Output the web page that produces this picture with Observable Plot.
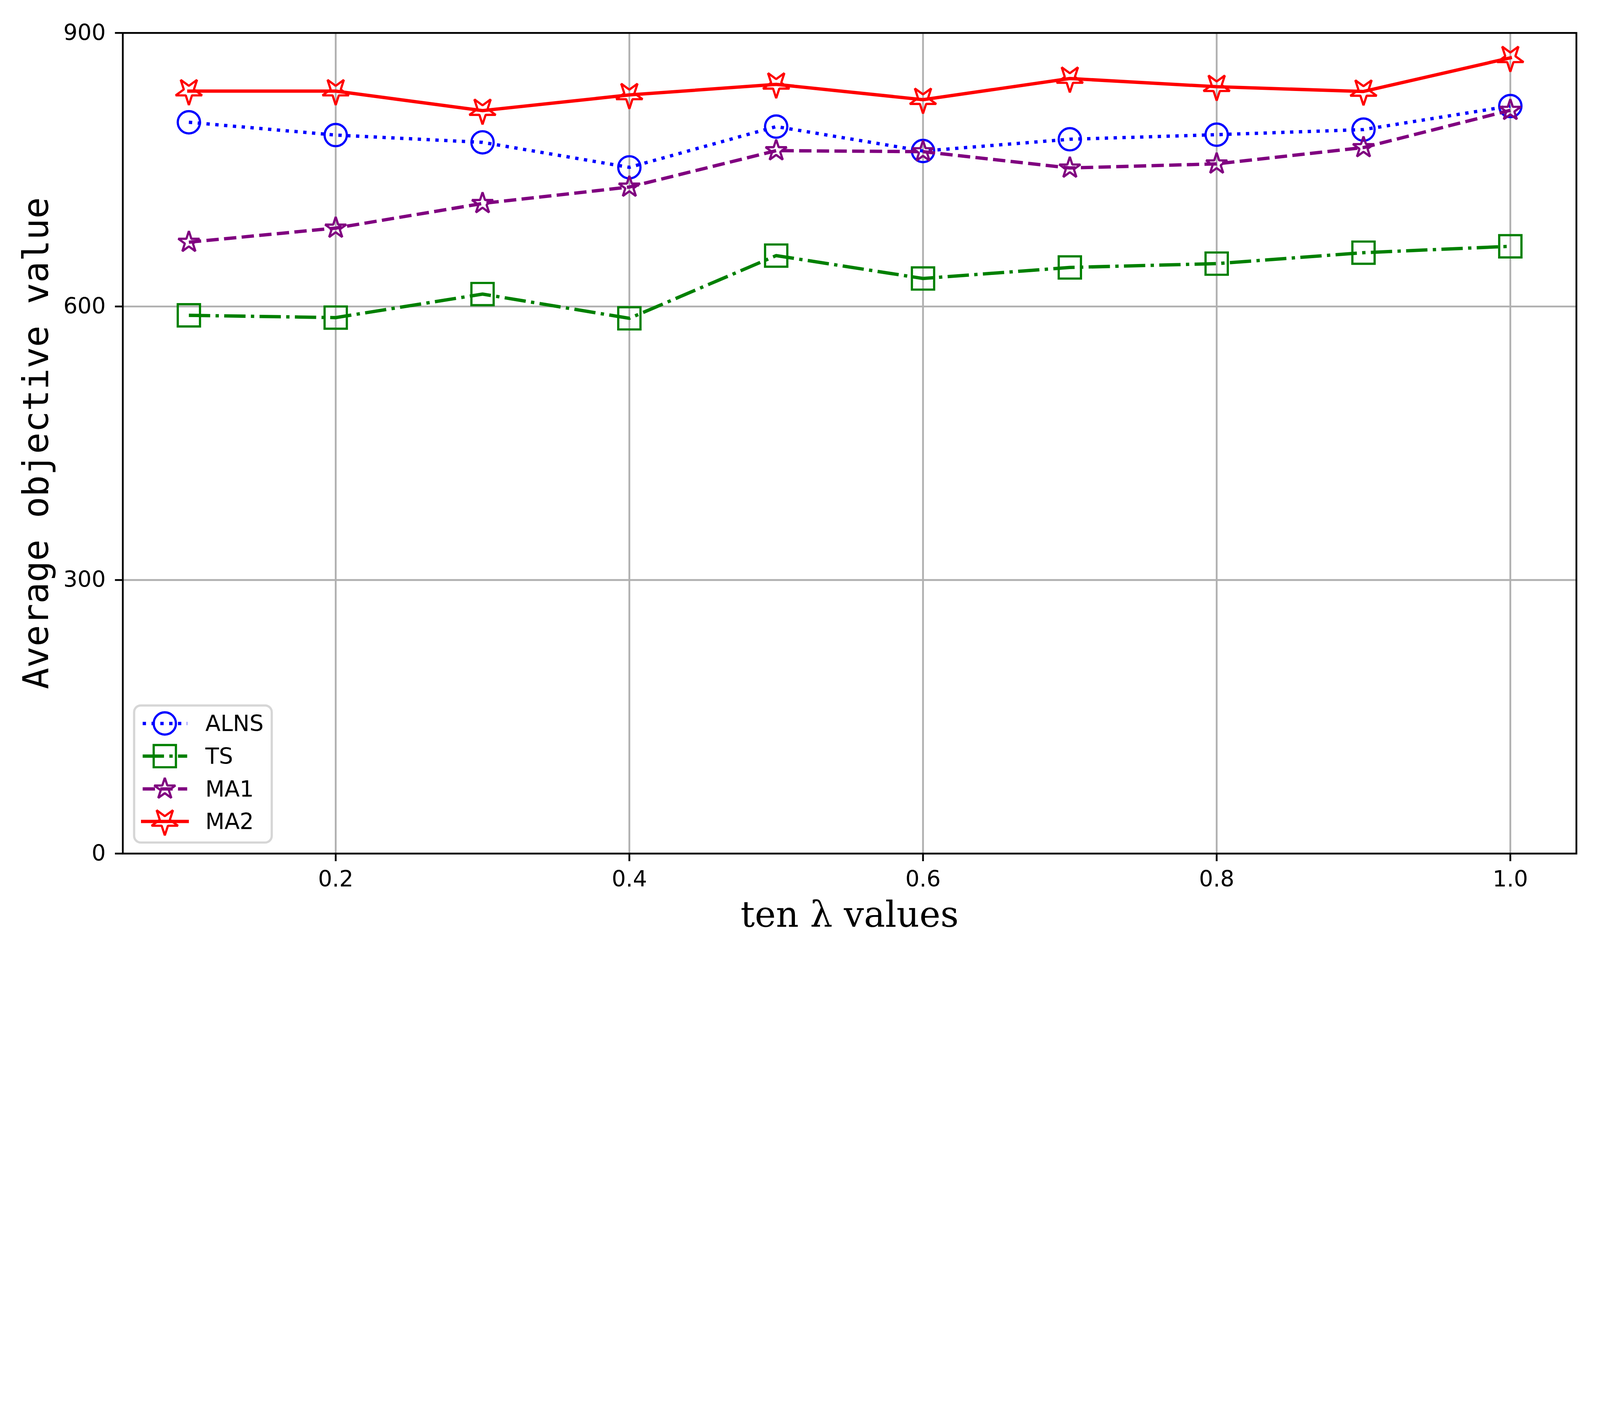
<!DOCTYPE html>
<html>
<head>
<meta charset="utf-8">
<script src="https://cdn.jsdelivr.net/npm/d3@7"></script>
<script src="https://cdn.jsdelivr.net/npm/@observablehq/plot@0.6"></script>
<style>
html, body { margin: 0; padding: 0; background: #ffffff; }
#chart svg { display: block; }
</style>
</head>
<body>
<div id="chart"></div>
<script>
// ---- data ----
const lambdas = [0.1, 0.2, 0.3, 0.4, 0.5, 0.6, 0.7, 0.8, 0.9, 1.0];
const alns = [802, 788, 780, 752.6, 797.3, 770.5, 783.4, 788.4, 794, 819.8];
const ts   = [590.3, 587.8, 613.6, 587, 655.8, 630.7, 642.8, 647, 659, 666];
const ma1  = [670.5, 686, 713, 731, 770.9, 769.8, 751.9, 756.4, 774.3, 815.2];
const ma2  = [836.2, 836.2, 814.8, 832, 843.6, 826.8, 850, 841, 835.8, 872.7];
const seriesNames = ["ALNS", "TS", "MA1", "MA2"];
const xTicks = [0.2, 0.4, 0.6, 0.8, 1.0];
const yTicks = [0, 300, 600, 900];
const xLabel = "ten λ values";
const yLabel = "Average objective value";

// ---- symbols ----
const symCircle = {draw(ctx, size) { const R = Math.sqrt(size / Math.PI); ctx.moveTo(R, 0); ctx.arc(0, 0, R, 0, 2 * Math.PI); ctx.closePath(); }};
const symSquare = {draw(ctx, size) { const R = Math.sqrt(size / Math.PI); ctx.moveTo(-R, -R); ctx.lineTo(R, -R); ctx.lineTo(R, R); ctx.lineTo(-R, R); ctx.closePath(); }};
function starDraw(flip) {
  return {draw(ctx, size) {
    const R = Math.sqrt(size / Math.PI), r = R * 0.381966;
    for (let k = 0; k < 10; k++) {
      const rad = k % 2 ? r : R;
      const a = (-90 + k * 36 + (flip ? 180 : 0)) * Math.PI / 180;
      const x = rad * Math.cos(a), y = rad * Math.sin(a);
      if (k) ctx.lineTo(x, y); else ctx.moveTo(x, y);
    }
    ctx.closePath();
  }};
}
const symStar = starDraw(false);
const symStarDown = starDraw(true);

// ---- styles ----
const LW = 12.5, MEW = 8.3, SPINE = 6.7;
const styles = {
  ALNS: {color: "#0000ff", dash: "12.5,20.6", symbol: symCircle, r: 41.7, join: "round"},
  TS:   {color: "#008000", dash: "80,20,12.5,20", symbol: symSquare, r: 41.7, join: "miter"},
  MA1:  {color: "#800080", dash: "46.25,20", symbol: symStar, r: 41.7, join: "bevel"},
  MA2:  {color: "#ff0000", dash: null, symbol: symStarDown, r: 52, join: "bevel"}
};
const valuesBySeries = {ALNS: alns, TS: ts, MA1: ma1, MA2: ma2};
const rows = seriesNames.flatMap(s => lambdas.map((x, i) => ({series: s, x, y: valuesBySeries[s][i]})));

const M = {left: 460, right: 89, top: 123, bottom: 399};

const seriesMarks = seriesNames.flatMap(s => {
  const st = styles[s];
  const d = rows.filter(r => r.series === s);
  return [
    Plot.line(d, {x: "x", y: "y", stroke: st.color, strokeWidth: LW,
      strokeDasharray: st.dash || undefined, strokeLinecap: st.dash ? "butt" : "square", strokeLinejoin: "round"}),
    Plot.dot(d, {x: "x", y: "y", symbol: st.symbol, r: st.r, fill: "none", stroke: st.color,
      strokeWidth: MEW, strokeLinejoin: st.join})
  ];
});

function legendMark(index, scales, values, dimensions) {
  const {marginLeft, marginBottom, height} = dimensions;
  const bottom = height - marginBottom;
  const g = d3.create("svg:g");
  g.append("rect")
    .attr("x", marginLeft + 43).attr("y", bottom - 41 - 514)
    .attr("width", 516).attr("height", 514).attr("rx", 25).attr("ry", 25)
    .attr("fill", "#ffffff").attr("fill-opacity", 0.8)
    .attr("stroke", "#cccccc").attr("stroke-opacity", 0.8).attr("stroke-width", 8.3);
  const rowDy = [-487.5, -365, -242, -120];
  seriesNames.forEach((s, i) => {
    const st = styles[s];
    const cy = bottom + rowDy[i];
    g.append("line")
      .attr("x1", marginLeft + 75).attr("x2", marginLeft + 242)
      .attr("y1", cy).attr("y2", cy)
      .attr("stroke", st.color).attr("stroke-width", LW)
      .attr("stroke-dasharray", st.dash || null)
      .attr("stroke-linecap", st.dash ? "butt" : "square");
    g.append("path")
      .attr("transform", `translate(${marginLeft + 158},${cy})`)
      .attr("d", d3.symbol(st.symbol, Math.PI * st.r * st.r)())
      .attr("fill", "none").attr("stroke", st.color)
      .attr("stroke-width", MEW).attr("stroke-linejoin", st.join);
    g.append("text")
      .attr("x", marginLeft + 310).attr("y", cy).attr("dy", "0.35em")
      .attr("text-anchor", "start")
      .attr("font-family", "DejaVu Sans").attr("font-size", 83.3)
      .attr("fill", "#000000")
      .text(s);
  });
  return g.node();
}

const chart = Plot.plot({
  width: 6000,
  height: 3600,
  marginLeft: M.left,
  marginRight: M.right,
  marginTop: M.top,
  marginBottom: M.bottom,
  style: {fontFamily: "DejaVu Sans", fontSize: "83.3px", background: "#ffffff", color: "#000000"},
  x: {domain: [0.055, 1.045]},
  y: {domain: [0, 900]},
  marks: [
    Plot.gridX(xTicks, {stroke: "#b0b0b0", strokeOpacity: 1, strokeWidth: SPINE}),
    Plot.gridY(yTicks, {stroke: "#b0b0b0", strokeOpacity: 1, strokeWidth: SPINE}),
    ...seriesMarks,
    Plot.frame({stroke: "#000000", strokeWidth: SPINE}),
    Plot.axisX({ticks: xTicks, tickFormat: d3.format(".1f"), tickSize: 29, tickPadding: 35,
      strokeWidth: SPINE, label: null, fontSize: 83.3}),
    Plot.axisY({ticks: yTicks, tickFormat: d3.format("d"), tickSize: 29, tickPadding: 35,
      strokeWidth: SPINE, label: null, fontSize: 83.3}),
    Plot.text([xLabel], {frameAnchor: "bottom", dy: 275, lineAnchor: "bottom", textAnchor: "middle",
      fontFamily: "DejaVu Serif", fontSize: 133.3, fill: "#000000"}),
    Plot.text([yLabel], {frameAnchor: "left", dx: -280, rotate: -90, lineAnchor: "bottom", textAnchor: "middle",
      fontFamily: "DejaVu Sans Mono", fontSize: 133.3, fill: "#000000"}),
    legendMark
  ]
});
document.getElementById("chart").appendChild(chart);
</script>
</body>
</html>
